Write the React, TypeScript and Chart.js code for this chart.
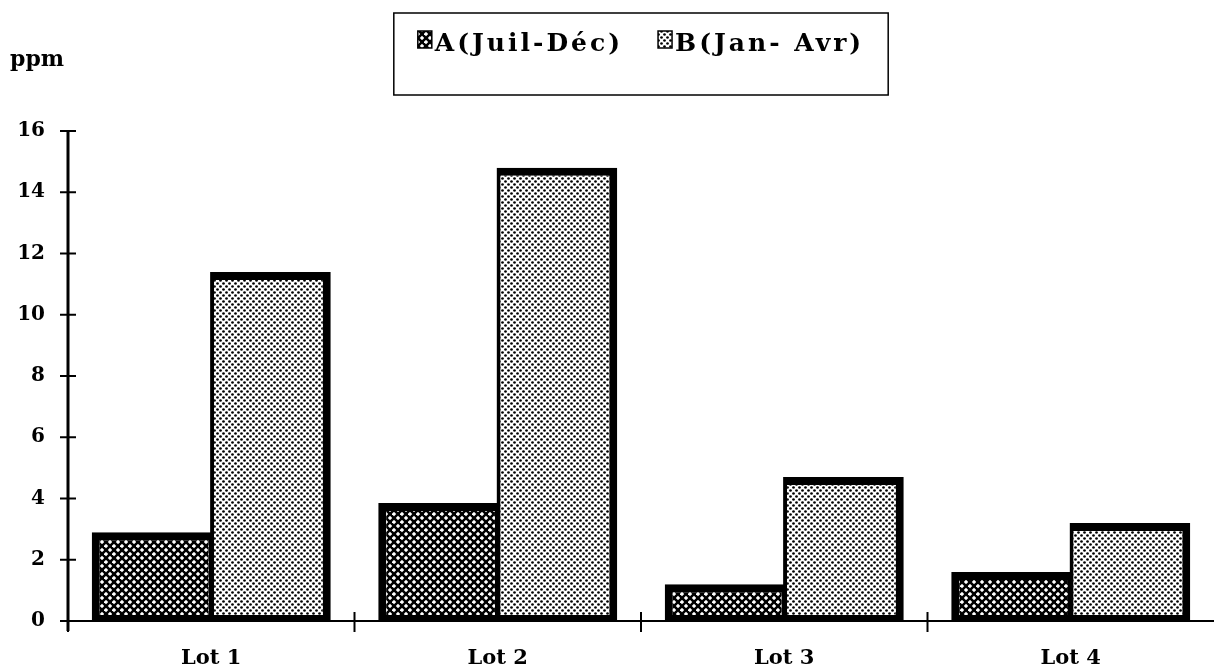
import React, { useEffect, useRef } from "react";
import { Chart, registerables } from "chart.js";

Chart.register(...registerables);

const categories = ["Lot 1", "Lot 2", "Lot 3", "Lot 4"];
const seriesLabels = ["A(Juil-Déc)", "B(Jan- Avr)"];
const seriesA = [2.9, 3.85, 1.2, 1.6];
const seriesB = [11.4, 14.8, 4.7, 3.2];
const yMin = 0;
const yMax = 16;
const yStep = 2;
const yUnit = "ppm";

const FONT = '"DejaVu Serif", "Liberation Serif", serif';

function makeCrossPattern(ctx: CanvasRenderingContext2D): CanvasPattern | string {
  const c = document.createElement("canvas");
  c.width = 8;
  c.height = 8;
  const g = c.getContext("2d");
  if (!g) return "#555";
  g.fillStyle = "#000";
  g.fillRect(0, 0, 8, 8);
  g.fillStyle = "#fff";
  const diamond = (cx: number, cy: number, r: number) => {
    g.beginPath();
    g.moveTo(cx, cy - r);
    g.lineTo(cx + r, cy);
    g.lineTo(cx, cy + r);
    g.lineTo(cx - r, cy);
    g.closePath();
    g.fill();
  };
  diamond(2, 2, 2.2);
  diamond(6, 6, 2.2);
  return ctx.createPattern(c, "repeat") || "#555";
}

function makeDotPattern(ctx: CanvasRenderingContext2D): CanvasPattern | string {
  const c = document.createElement("canvas");
  c.width = 6;
  c.height = 6;
  const g = c.getContext("2d");
  if (!g) return "#ccc";
  g.fillStyle = "#fff";
  g.fillRect(0, 0, 6, 6);
  g.fillStyle = "#000";
  const dot = (cx: number, cy: number, r: number) => {
    g.beginPath();
    g.arc(cx, cy, r, 0, Math.PI * 2);
    g.fill();
  };
  dot(1.5, 1.5, 1.35);
  dot(4.5, 4.5, 1.35);
  return ctx.createPattern(c, "repeat") || "#ccc";
}

const decorPlugin = {
  id: "decor",
  afterDatasetsDraw(chart: any) {
    const { ctx, chartArea, scales } = chart;
    const xs = scales.x;
    const ys = scales.y;
    ctx.save();
    ctx.strokeStyle = "#000";

    // axes lines
    ctx.lineWidth = 3;
    ctx.beginPath();
    ctx.moveTo(chartArea.left, chartArea.top);
    ctx.lineTo(chartArea.left, chartArea.bottom + 10);
    ctx.stroke();
    ctx.lineWidth = 2;
    ctx.beginPath();
    ctx.moveTo(chartArea.left, chartArea.bottom);
    ctx.lineTo(chartArea.right, chartArea.bottom);
    ctx.stroke();

    // y ticks crossing the axis
    ctx.lineWidth = 2;
    ys.ticks.forEach((_t: any, i: number) => {
      const py = ys.getPixelForTick(i);
      ctx.beginPath();
      ctx.moveTo(chartArea.left - 8, py);
      ctx.lineTo(chartArea.left + 8, py);
      ctx.stroke();
    });

    // x ticks at category boundaries
    for (let i = 0; i < categories.length; i++) {
      const px = xs.getPixelForValue(i - 0.5);
      ctx.beginPath();
      ctx.moveTo(px, chartArea.bottom - 9);
      ctx.lineTo(px, chartArea.bottom + 11);
      ctx.stroke();
    }

    // unit label
    ctx.fillStyle = "#000";
    ctx.font = `bold 22px ${FONT}`;
    ctx.textAlign = "left";
    ctx.textBaseline = "middle";
    ctx.fillText(yUnit, 10, 60);

    // legend
    const ds = chart.data.datasets;
    ctx.font = `bold 25px ${FONT}`;
    (ctx as any).letterSpacing = "3px";
    const widths = ds.map((d: any) => ctx.measureText(d.label).width);
    const sw = 14;
    const sh = 17;
    const gap = 3;
    const itemGap = 35;
    const pad = 24;
    let total = 0;
    widths.forEach((w: number, i: number) => {
      total += sw + gap + w + (i < widths.length - 1 ? itemGap : 0);
    });
    const cx = (chartArea.left + chartArea.right) / 2;
    let x = cx - total / 2;
    const boxTop = 13;
    const boxBottom = 95;
    ctx.lineWidth = 1.5;
    ctx.strokeRect(x - pad, boxTop, total + pad * 2, boxBottom - boxTop);
    ds.forEach((d: any, i: number) => {
      ctx.fillStyle = d.backgroundColor;
      ctx.fillRect(x, 31, sw, sh);
      ctx.lineWidth = 1.5;
      ctx.strokeRect(x, 31, sw, sh);
      x += sw + gap;
      ctx.fillStyle = "#000";
      ctx.textAlign = "left";
      ctx.textBaseline = "middle";
      ctx.fillText(d.label, x, 44);
      x += widths[i] + itemGap;
    });
    (ctx as any).letterSpacing = "0px";
    ctx.restore();
  },
};

export default function App() {
  const ref = useRef<HTMLCanvasElement | null>(null);

  useEffect(() => {
    const canvas = ref.current;
    if (!canvas) return;
    const ctx = canvas.getContext("2d");
    if (!ctx) return;
    const patA = makeCrossPattern(ctx);
    const patB = makeDotPattern(ctx);

    const chart = new Chart(ctx, {
      type: "bar",
      data: {
        labels: categories,
        datasets: [
          {
            label: seriesLabels[0],
            data: seriesA,
            backgroundColor: patA as any,
            borderColor: "#000",
            borderWidth: { top: 8, left: 8, right: 4, bottom: 6 } as any,
            borderSkipped: false as any,
            barPercentage: 1.02,
            categoryPercentage: 0.826,
          },
          {
            label: seriesLabels[1],
            data: seriesB,
            backgroundColor: patB as any,
            borderColor: "#000",
            borderWidth: { top: 8, left: 4, right: 8, bottom: 6 } as any,
            borderSkipped: false as any,
            barPercentage: 1.02,
            categoryPercentage: 0.826,
          },
        ],
      },
      options: {
        responsive: false,
        animation: false,
        devicePixelRatio: 1,
        layout: { padding: { top: 131, left: 0, right: 0, bottom: 0 } },
        plugins: {
          legend: { display: false },
          tooltip: { enabled: false },
          title: { display: false },
        },
        scales: {
          x: {
            type: "category",
            offset: true,
            grid: { display: false, drawTicks: false },
            border: { display: false },
            ticks: {
              color: "#000",
              padding: 25,
              font: { family: FONT, weight: "bold", size: 21 },
              maxRotation: 0,
            },
            afterFit: (s: any) => {
              s.height = 49;
            },
          },
          y: {
            type: "linear",
            min: yMin,
            max: yMax,
            grid: { display: false, drawTicks: false },
            border: { display: false },
            ticks: {
              stepSize: yStep,
              color: "#000",
              padding: 23,
              font: { family: FONT, weight: "bold", size: 20 },
            },
            afterFit: (s: any) => {
              s.width = 68;
            },
          },
        },
      },
      plugins: [decorPlugin],
    });
    return () => chart.destroy();
  }, []);

  return (
    <div style={{ position: "absolute", left: 0, top: 0, width: 1214, height: 670, background: "#fff" }}>
      <canvas ref={ref} width={1214} height={670} style={{ display: "block" }} />
    </div>
  );
}
